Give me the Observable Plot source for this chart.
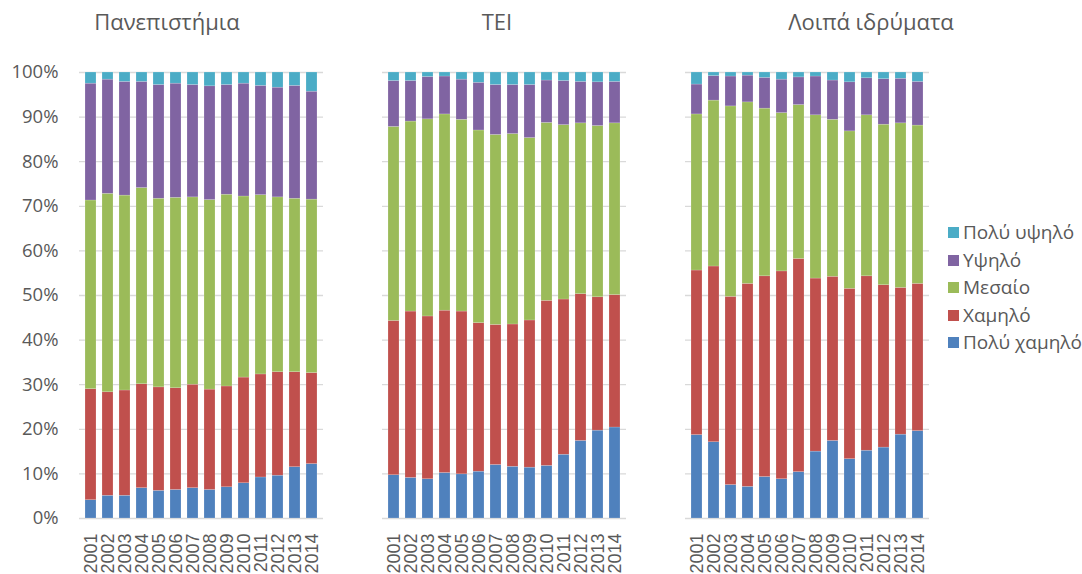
<!DOCTYPE html>
<html>
<head>
<meta charset="utf-8">
<script src="https://cdn.jsdelivr.net/npm/d3@7"></script>
<script src="https://cdn.jsdelivr.net/npm/@observablehq/plot@0.6"></script>
<style>
  html, body { margin: 0; padding: 0; background: #fff; overflow: hidden; }
  #wrap { position: relative; width: 1082px; height: 574px; font-family: "Open Sans", sans-serif; color: #595959; overflow: hidden; }
  .title { position: absolute; top: 6px; width: 300px; text-align: center; font-size: 22px; line-height: 30px; color: #595959; }
  #legend { position: absolute; left: 948px; top: 219px; font-size: 19px; line-height: 27.5px; color: #595959; }
  .item { display: flex; align-items: center; white-space: nowrap; height: 27.5px; }
  .sw { width: 11px; height: 11px; margin-right: 4px; display: inline-block; }
  svg text { fill: #595959; }
</style>
</head>
<body>
<div id="wrap"></div>
<script>
const panels = ["Πανεπιστήμια", "TEI", "Λοιπά ιδρύματα"];
const years = ["2001","2002","2003","2004","2005","2006","2007","2008","2009","2010","2011","2012","2013","2014"];
const levels = ["Πολύ χαμηλό", "Χαμηλό", "Μεσαίο", "Υψηλό", "Πολύ υψηλό"]; // bottom to top
const colors = ["#4F81BD", "#C0504D", "#9BBB59", "#8064A2", "#4BACC6"];
const yTicks = [0,10,20,30,40,50,60,70,80,90,100];

// Πανεπιστήμια (% shares)
const uniVeryLow  = [4.1, 5.1, 5.1, 6.8, 6.2, 6.4, 6.8, 6.4, 7.0, 7.9, 9.2, 9.6, 11.5, 12.2];
const uniLow      = [24.9, 23.2, 23.6, 23.3, 23.2, 22.8, 23.2, 22.5, 22.6, 23.7, 23.1, 23.2, 21.3, 20.4];
const uniMid      = [42.3, 44.5, 43.7, 44.0, 42.3, 42.7, 42.0, 42.5, 43.0, 40.6, 40.2, 39.2, 38.9, 38.9];
const uniHigh     = [26.2, 25.6, 25.5, 23.8, 25.5, 25.6, 25.2, 25.5, 24.6, 25.3, 24.5, 24.6, 25.3, 24.2];
const uniVeryHigh = [2.5, 1.6, 2.1, 2.1, 2.8, 2.5, 2.8, 3.1, 2.8, 2.5, 3.0, 3.4, 3.0, 4.3];

// TEI
const teiVeryLow  = [9.7, 9.1, 8.8, 10.2, 9.9, 10.5, 12.0, 11.6, 11.4, 11.8, 14.3, 17.4, 19.7, 20.4];
const teiLow      = [34.6, 37.3, 36.5, 36.4, 36.5, 33.3, 31.4, 31.9, 33.0, 37.0, 34.8, 32.9, 29.9, 29.7];
const teiMid      = [43.5, 42.6, 44.2, 44.0, 43.0, 43.2, 42.6, 42.7, 40.9, 39.9, 39.1, 38.3, 38.4, 38.5];
const teiHigh     = [10.3, 9.1, 9.5, 8.5, 9.0, 10.7, 11.2, 11.0, 11.9, 9.5, 9.9, 9.3, 9.8, 9.3];
const teiVeryHigh = [1.9, 1.9, 1.0, 0.9, 1.6, 2.3, 2.8, 2.8, 2.8, 1.8, 1.9, 2.1, 2.2, 2.1];

// Λοιπά ιδρύματα
const othVeryLow  = [18.7, 17.1, 7.5, 7.1, 9.3, 8.8, 10.4, 15.0, 17.4, 13.3, 15.2, 15.9, 18.8, 19.6];
const othLow      = [36.9, 39.4, 42.2, 45.5, 45.0, 46.6, 47.8, 38.8, 36.8, 38.2, 39.1, 36.4, 32.9, 33.0];
const othMid      = [35.0, 37.2, 42.7, 40.7, 37.6, 35.5, 34.5, 36.6, 35.2, 35.3, 36.1, 36.0, 36.9, 35.5];
const othHigh     = [6.7, 5.5, 6.7, 6.0, 6.9, 7.5, 6.2, 8.7, 8.8, 11.0, 8.3, 10.2, 10.0, 9.8];
const othVeryHigh = [2.7, 0.8, 0.9, 0.7, 1.2, 1.6, 1.1, 0.9, 1.8, 2.2, 1.3, 1.5, 1.4, 2.1];

const series = [
  [uniVeryLow, uniLow, uniMid, uniHigh, uniVeryHigh],
  [teiVeryLow, teiLow, teiMid, teiHigh, teiVeryHigh],
  [othVeryLow, othLow, othMid, othHigh, othVeryHigh]
];

const data = [];
panels.forEach((p, pi) => {
  levels.forEach((lv, li) => {
    years.forEach((yr, yi) => {
      data.push({panel: p, year: yr, level: lv, value: series[pi][li][yi]});
    });
  });
});

const chart = Plot.plot({
  width: 1082,
  height: 574,
  marginLeft: 79,
  marginRight: 152,
  marginTop: 72,
  marginBottom: 56,
  style: {fontFamily: "'Open Sans', sans-serif", color: "#595959", background: "transparent"},
  fx: {domain: panels, paddingInner: 0.194, paddingOuter: 0, axis: null, label: null},
  x: {domain: years, paddingInner: 0.35, paddingOuter: 0.175, label: null},
  y: {domain: [0, 100], label: null},
  color: {domain: levels, range: colors},
  marks: [
    Plot.gridY(yTicks, {stroke: "#d9d9d9", strokeOpacity: 1, strokeWidth: 1.3}),
    Plot.barY(data, {fx: "panel", x: "year", y: "value", fill: "level", order: levels, stroke: "#ffffff", strokeOpacity: 0.35, strokeWidth: 0.5}),
    Plot.axisY(yTicks, {tickFormat: d => d + "%", tickSize: 0, tickPadding: 21, fontSize: 18.5, label: null}),
    Plot.axisX({tickRotate: -90, tickSize: 0, tickPadding: 15, fontSize: 18, fontFamily: "'Liberation Sans', Arial, sans-serif", label: null})
  ]
});

const wrap = document.getElementById("wrap");
wrap.appendChild(chart);

const titleCenters = [167, 497, 871];
panels.forEach((p, i) => {
  const d = document.createElement("div");
  d.className = "title";
  d.style.left = (titleCenters[i] - 150) + "px";
  d.textContent = p;
  wrap.appendChild(d);
});

const legend = document.createElement("div");
legend.id = "legend";
levels.slice().reverse().forEach((lv) => {
  const it = document.createElement("div");
  it.className = "item";
  const sw = document.createElement("span");
  sw.className = "sw";
  sw.style.background = colors[levels.indexOf(lv)];
  it.appendChild(sw);
  it.appendChild(document.createTextNode(lv));
  legend.appendChild(it);
});
wrap.appendChild(legend);
</script>
</body>
</html>
